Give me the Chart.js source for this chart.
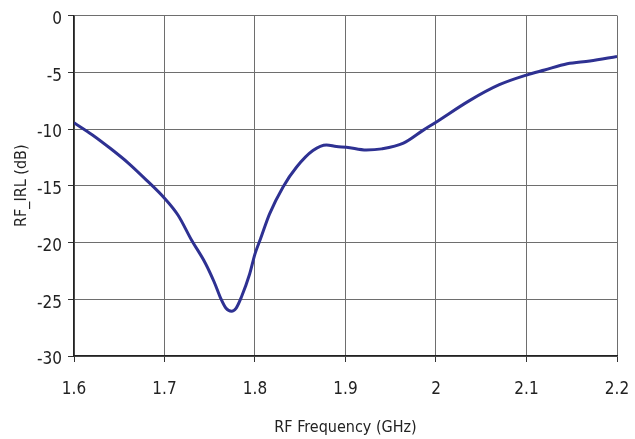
<!DOCTYPE html>
<html>
<head>
<meta charset="utf-8">
<script src="https://cdn.jsdelivr.net/npm/chart.js@4/dist/chart.umd.min.js"></script>
<style>
    html, body { margin: 0; padding: 0; background: #fff; }
    #wrap { width: 635px; height: 439px; }
</style>
</head>
<body>
<div id="wrap"><canvas id="irl-chart" width="635" height="439"></canvas></div>
<script>
// RF input return loss vs frequency
const freqGHz = [1.600, 1.620, 1.640, 1.660, 1.680, 1.700, 1.715, 1.730, 1.745, 1.755,
                 1.762, 1.768, 1.774, 1.779, 1.785, 1.794, 1.800, 1.806, 1.816, 1.831,
                 1.846, 1.864, 1.879, 1.890, 1.901, 1.923, 1.940, 1.964, 1.986, 2.000,
                 2.037, 2.070, 2.100, 2.120, 2.145, 2.170, 2.200];
const irlDb = [-9.45, -10.5, -11.7, -13.0, -14.5, -16.1, -17.6, -19.8, -21.8, -23.5,
               -24.9, -25.8, -26.05, -25.8, -24.8, -22.8, -21.0, -19.7, -17.5, -15.1,
               -13.35, -11.9, -11.4, -11.55, -11.6, -11.85, -11.75, -11.25, -10.1, -9.4,
               -7.5, -6.1, -5.25, -4.8, -4.25, -4.0, -3.6];

const xTicks = [1.6, 1.7, 1.8, 1.9, 2.0, 2.1, 2.2];
const yTicks = [0, -5, -10, -15, -20, -25, -30];

const FONT = "'Liberation Sans Narrow', 'DejaVu Sans Condensed', 'Roboto Condensed', sans-serif";

const ctx = document.getElementById('irl-chart');
new Chart(ctx, {
    type: 'line',
    data: {
        datasets: [{
            label: 'RF_IRL',
            data: freqGHz.map((f, i) => ({ x: f, y: irlDb[i] })),
            borderColor: '#2e3192',
            borderWidth: 3,
            pointRadius: 0,
            cubicInterpolationMode: 'monotone',
            fill: false
        }]
    },
    options: {
        responsive: false,
        animation: false,
        devicePixelRatio: 1,
        layout: { padding: { left: 0, right: 18, top: 15.5, bottom: 0 } },
        plugins: {
            legend: { display: false },
            tooltip: { enabled: false }
        },
        scales: {
            x: {
                type: 'linear',
                min: 1.6,
                max: 2.2,
                afterBuildTicks: (scale) => { scale.ticks = xTicks.map(v => ({ value: v })); },
                afterFit: (scale) => {
                    // keep the plot box fixed, labels may overhang
                    scale.height = 83;
                    scale.paddingLeft = 0;
                    scale.paddingRight = 0;
                },
                grid: { color: '#6e6e6e', lineWidth: 1, tickLength: 6, tickColor: '#333' },
                border: { color: '#222', width: 1.5 },
                ticks: {
                    color: '#222',
                    padding: 17,
                    font: { family: FONT, size: 17 },
                    callback: (v) => String(Math.round(v * 10) / 10)
                },
                title: {
                    display: true,
                    text: 'RF Frequency (GHz)',
                    color: '#222',
                    font: { family: FONT, size: 16 },
                    padding: { top: 14, bottom: 2 }
                }
            },
            y: {
                type: 'linear',
                min: -30,
                max: 0,
                afterBuildTicks: (scale) => { scale.ticks = yTicks.map(v => ({ value: v })); },
                afterFit: (scale) => {
                    scale.width = 74;
                    scale.paddingTop = 0;
                    scale.paddingBottom = 0;
                },
                grid: { color: '#6e6e6e', lineWidth: 1, tickLength: 6, tickColor: '#333' },
                border: { color: '#222', width: 1.5 },
                ticks: {
                    color: '#222',
                    padding: 6,
                    labelOffset: 4,
                    font: { family: FONT, size: 17 }
                },
                title: {
                    display: true,
                    text: 'RF_IRL (dB)',
                    color: '#222',
                    font: { family: FONT, size: 16 },
                    padding: { top: 12, bottom: 0 }
                }
            }
        }
    }
});
</script>
</body>
</html>
